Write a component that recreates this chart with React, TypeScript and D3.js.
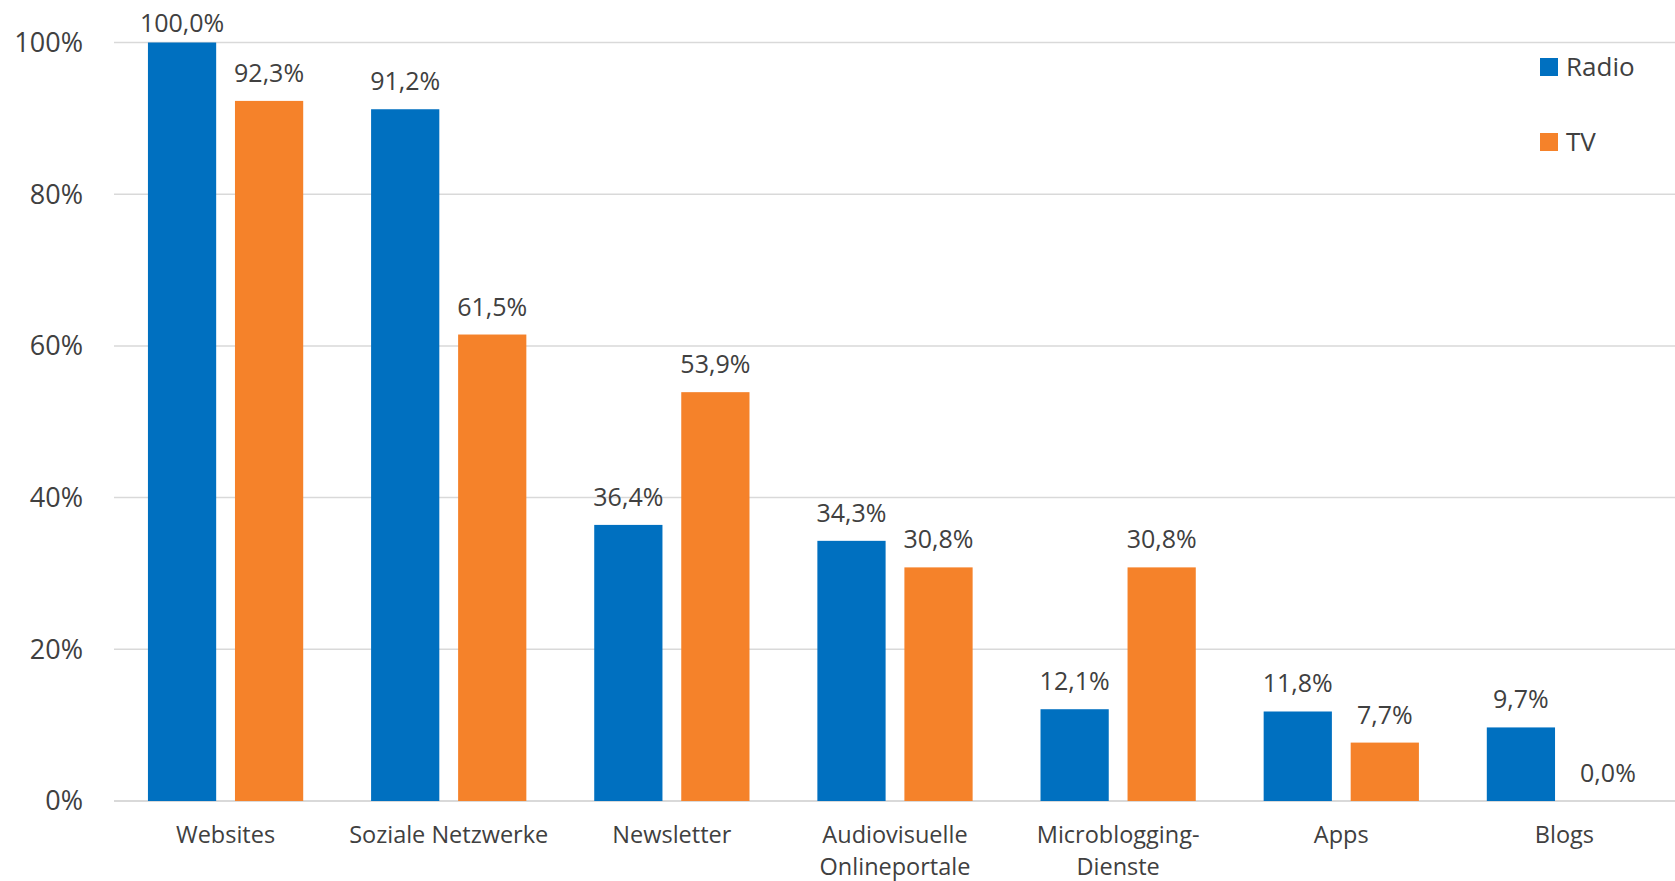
import React from "react";
import * as d3 from "d3";

const categories: string[][] = [
  ["Websites"],
  ["Soziale Netzwerke"],
  ["Newsletter"],
  ["Audiovisuelle", "Onlineportale"],
  ["Microblogging-", "Dienste"],
  ["Apps"],
  ["Blogs"],
];
const seriesNames = ["Radio", "TV"];
const radioValues = [100.0, 91.2, 36.4, 34.3, 12.1, 11.8, 9.7];
const tvValues = [92.3, 61.5, 53.9, 30.8, 30.8, 7.7, 0.0];
const yTicks = [0, 20, 40, 60, 80, 100];
const colors = ["#0070C0", "#F5822A"];

const W = 1675;
const H = 881;
const FONT = "'Open Sans', 'Noto Sans', sans-serif";
const TEXT = "#404040";

export default function App() {
  const left = 114;
  const right = 1676;
  const top = 42.5;
  const bottom = 801;

  const keys = categories.map((c) => c.join(" "));
  const x0 = d3.scaleBand<string>().domain(keys).range([left, right]).padding(0);
  const x1 = d3
    .scaleBand<string>()
    .domain(seriesNames)
    .range([0, x0.bandwidth()])
    .paddingInner(0.216)
    .paddingOuter(0.39);
  const y = d3.scaleLinear().domain([0, 100]).range([bottom, top]);

  const series = [radioValues, tvValues];
  const fmt = (v: number) => v.toFixed(1).replace(".", ",") + "%";

  return (
    <svg
      width={W}
      height={H}
      style={{ position: "absolute", left: 0, top: 0, display: "block", background: "#fff" }}
      fontFamily={FONT}
    >
      {yTicks.map((t) => (
        <g key={t}>
          <line x1={left} x2={W} y1={y(t)} y2={y(t)} stroke="#D9D9D9" strokeWidth={t === 0 ? 2 : 1.5} />
          <text x={83} y={y(t)} dy="0.35em" textAnchor="end" fontSize={27} fill={TEXT}>
            {t}%
          </text>
        </g>
      ))}
      {keys.map((k, i) => (
        <g key={k} transform={`translate(${x0(k)},0)`}>
          {seriesNames.map((s, si) => {
            const v = series[si][i];
            const bx = x1(s)!;
            const by = y(v);
            const ly = Math.max(by - 19, 32);
            return (
              <g key={s}>
                <rect x={bx} y={by} width={x1.bandwidth()} height={bottom - by} fill={colors[si]} />
                <text
                  x={bx + x1.bandwidth() / 2}
                  y={ly}
                  textAnchor="middle"
                  fontSize={25}
                  fill={TEXT}
                >
                  {fmt(v)}
                </text>
              </g>
            );
          })}
          {categories[i].map((line, li) => (
            <text
              key={li}
              x={x0.bandwidth() / 2}
              y={843 + li * 32}
              textAnchor="middle"
              fontSize={23.5}
              fill={TEXT}
            >
              {line}
            </text>
          ))}
        </g>
      ))}
      {seriesNames.map((s, si) => (
        <g key={s} transform={`translate(1540,${58 + si * 75})`}>
          <rect x={0} y={0} width={18} height={18} fill={colors[si]} />
          <text x={26} y={18} fontSize={26} fill={TEXT}>
            {s}
          </text>
        </g>
      ))}
    </svg>
  );
}
